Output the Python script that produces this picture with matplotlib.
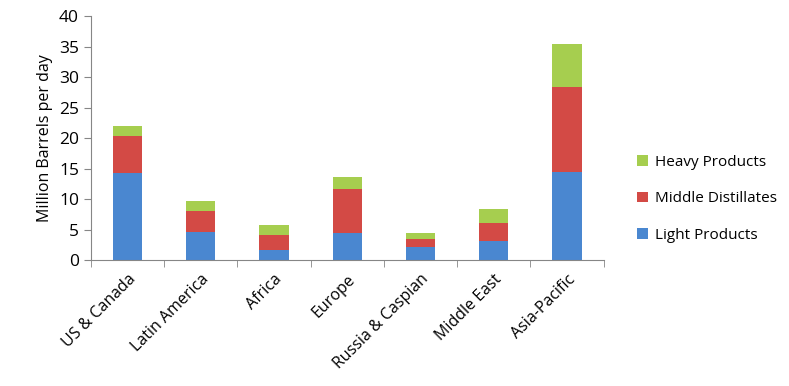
import numpy as np
import matplotlib.pyplot as plt

regions = ["US & Canada", "Latin America", "Africa", "Europe", "Russia & Caspian", "Middle East", "Asia-Pacific"]
light = [14.3, 4.65, 1.7, 4.4, 2.1, 3.1, 14.5]
middle = [6.0, 3.4, 2.4, 7.2, 1.3, 3.0, 13.9]
heavy = [1.7, 1.6, 1.6, 2.1, 1.0, 2.3, 7.0]

plt.rcParams['font.family'] = ['Open Sans', 'DejaVu Sans']

fig = plt.figure(figsize=(7.89, 3.86), dpi=100)
ax = fig.add_axes([0.115, 0.326, 0.65, 0.632])

x = np.arange(len(regions))
light = np.array(light)
middle = np.array(middle)
heavy = np.array(heavy)
w = 0.4
ax.bar(x, light, w, color="#4A87D0", label="Light Products")
ax.bar(x, middle, w, bottom=light, color="#D34A45", label="Middle Distillates")
ax.bar(x, heavy, w, bottom=light + middle, color="#A6CE4F", label="Heavy Products")

ax.set_xlim(-0.5, len(regions) - 0.5)
ax.set_ylim(0, 40)
ax.set_yticks(range(0, 41, 5))
ax.set_xticks(x)
ax.set_xticklabels(regions, rotation=45, ha="right", rotation_mode="anchor", fontsize=11.5)
ax.set_xticks(np.arange(-0.5, len(regions)), minor=True)
ax.tick_params(axis="x", which="major", length=0, pad=8)
ax.tick_params(axis="x", which="minor", length=5, color="#868686", direction="out")
ax.tick_params(axis="y", length=5, color="#868686", labelsize=12.5, direction="out")
ax.set_ylabel("Million Barrels per day", fontsize=11.5)

for s in ["top", "right"]:
    ax.spines[s].set_visible(False)
for s in ["left", "bottom"]:
    ax.spines[s].set_color("#868686")

h, l = ax.get_legend_handles_labels()
fig.legend(h[::-1], l[::-1], loc="center left", bbox_to_anchor=(0.79, 0.485),
           frameon=False, fontsize=11, handlelength=0.7, handleheight=0.7,
           labelspacing=1.4, handletextpad=0.5)

fig.savefig("out.png")
